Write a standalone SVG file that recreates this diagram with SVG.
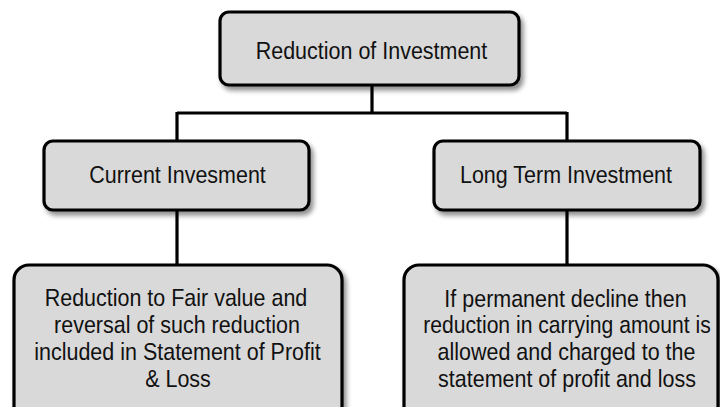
<svg xmlns="http://www.w3.org/2000/svg" width="720" height="407" viewBox="0 0 720 407">
<defs>
<filter id="sh" x="-10%" y="-10%" width="125%" height="130%">
<feGaussianBlur in="SourceAlpha" stdDeviation="2.5"/>
<feOffset dx="3" dy="4" result="b"/>
<feComponentTransfer><feFuncA type="linear" slope="0.45"/></feComponentTransfer>
<feMerge><feMergeNode/><feMergeNode in="SourceGraphic"/></feMerge>
</filter>
</defs>
<style>
.box{fill:#d9d9d9;stroke:#000;stroke-width:3.2;filter:url(#sh)}
.t{font-family:"Liberation Sans",Arial,sans-serif;font-size:24px;fill:#111;text-anchor:middle}
.c{stroke:#000;stroke-width:3.2;fill:none}
</style>
<rect width="720" height="407" fill="#fff"/>
<g id="connectors">
<path class="c" d="M372 86V113M177 113H567M177 112V141M567 112V141M177 210V265M567 210V265"/>
</g>
<g id="top">
<rect class="box" x="220" y="12" width="299" height="73" rx="9"/>
<text class="t" transform="translate(371.5 59) scale(0.895 1)">Reduction of Investment</text>
</g>
<g id="current">
<rect class="box" x="44" y="141" width="265" height="69" rx="9"/>
<text class="t" transform="translate(177.5 183) scale(0.895 1)">Current Invesment</text>
</g>
<g id="longterm">
<rect class="box" x="434" y="141" width="266" height="69" rx="9"/>
<text class="t" transform="translate(566 183) scale(0.895 1)">Long Term Investment</text>
</g>
<g id="current-detail">
<rect class="box" x="14" y="265" width="328" height="160" rx="15"/>
<text class="t" transform="translate(176 306) scale(0.895 1)">Reduction to Fair value and</text>
<text class="t" transform="translate(177 333) scale(0.895 1)">reversal of such reduction</text>
<text class="t" transform="translate(177.5 360) scale(0.895 1)">included in Statement of Profit</text>
<text class="t" transform="translate(178 387) scale(0.895 1)">&amp; Loss</text>
</g>
<g id="longterm-detail">
<rect class="box" x="404" y="265" width="314" height="160" rx="15"/>
<text class="t" transform="translate(565.5 306.5) scale(0.895 1)">If permanent decline then</text>
<text class="t" transform="translate(567 333) scale(0.88 1)">reduction in carrying amount is</text>
<text class="t" transform="translate(566.5 360) scale(0.895 1)">allowed and charged to the</text>
<text class="t" transform="translate(567 387) scale(0.895 1)">statement of profit and loss</text>
</g>
</svg>
